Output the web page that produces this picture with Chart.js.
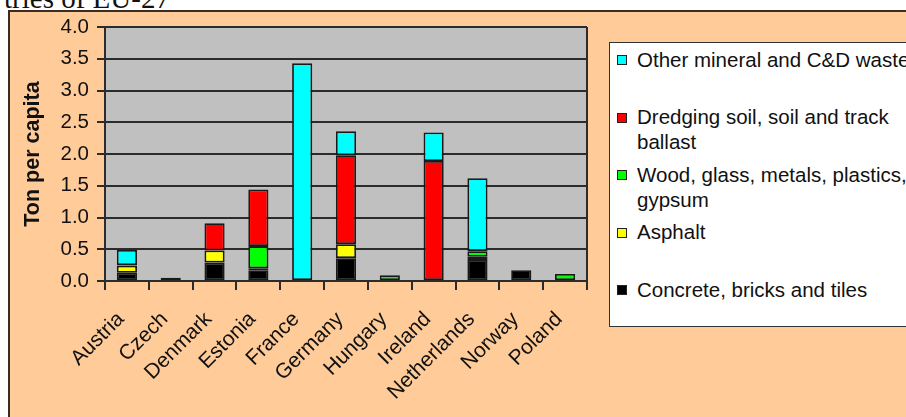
<!DOCTYPE html>
<html>
<head>
<meta charset="utf-8">
<script src="https://cdn.jsdelivr.net/npm/chart.js@4.4.1/dist/chart.umd.min.js"></script>
<style>
  html, body { margin: 0; padding: 0; background: #fff; overflow: hidden; }
  body { width: 906px; height: 417px; position: relative; font-family: "Liberation Sans", Arial, sans-serif; }
  #caption {
    position: absolute; left: 4px; top: -16px;
    font: 29px/1 "Liberation Serif", "DejaVu Serif", serif; color: #111; white-space: nowrap;
  }
  #frame {
    position: absolute; left: 8px; top: 10px; width: 1000px; height: 500px;
    background: #FFCC99; border-left: 2px solid #3b2b22; border-top: 2px solid #3b2b22;
  }
  #chartBox { position: absolute; left: 0; top: 0; width: 906px; height: 417px; }
  #legend {
    position: absolute; left: 609px; top: 42px; width: 400px; height: 285px;
    background: #fff; border: 1.5px solid #333; box-sizing: border-box;
  }
  .item { position: relative; height: 57.5px; padding-top: 3.5px; box-sizing: border-box; }
  .swatch {
    position: absolute; left: 7px; top: 12px; width: 8px; height: 8px; border: 1px solid #222;
  }
  .text { position: absolute; left: 27px; width: 280px; font-size: 20.5px; line-height: 25px; color: #111; }
</style>
</head>
<body>
<div id="caption">tries of EU-27</div>
<div id="frame"></div>
<canvas id="chartBox" width="906" height="417"></canvas>
<div id="legend"></div>
<script>
"use strict";

const countries = ["Austria", "Czech", "Denmark", "Estonia", "France", "Germany",
  "Hungary", "Ireland", "Netherlands", "Norway", "Poland"];

// stacked from bottom to top
const concrete = [0.13, 0.05, 0.29, 0.17, null, 0.36, null, null, 0.33, 0.17, null];
const asphalt = [0.11, null, 0.19, 0.03, null, 0.22, null, null, 0.05, null, null];
const woodGlass = [0.01, null, null, 0.35, null, null, 0.09, null, 0.09, null, 0.11];
const dredging = [null, null, 0.43, 0.89, null, 1.40, null, 1.89, null, null, null];
const otherMineral = [0.24, null, null, null, 3.43, 0.38, null, 0.45, 1.15, null, null];

const yTicks = [0, 0.5, 1, 1.5, 2, 2.5, 3, 3.5, 4];

const series = [
  { name: "Concrete, bricks and tiles", values: concrete, color: "#000000" },
  { name: "Asphalt", values: asphalt, color: "#FFFF00" },
  { name: "Wood, glass, metals, plastics, gypsum", values: woodGlass, color: "#00FF00" },
  { name: "Dredging soil, soil and track ballast", values: dredging, color: "#FF0000" },
  { name: "Other mineral and C&D waste", values: otherMineral, color: "#00FFFF" },
];

const textColor = "#111";
const lineColor = "#2b2b2b";

// gray plot area plus its frame
const plotArea = {
  id: "plotArea",
  beforeDraw(chart) {
    const { ctx, chartArea: a } = chart;
    ctx.save();
    ctx.fillStyle = "#C0C0C0";
    ctx.fillRect(a.left, a.top, a.right - a.left, a.bottom - a.top);
    ctx.restore();
  },
  beforeDatasetsDraw(chart) {
    const { ctx, chartArea: a } = chart;
    ctx.save();
    ctx.strokeStyle = lineColor;
    ctx.lineWidth = 2;
    ctx.beginPath();
    ctx.moveTo(a.right, a.top);
    ctx.lineTo(a.right, a.bottom);
    ctx.stroke();
    ctx.restore();
  },
};

Chart.defaults.font.family = "'Liberation Sans', Arial, sans-serif";
Chart.defaults.color = textColor;

const chart = new Chart(document.getElementById("chartBox"), {
  type: "bar",
  data: {
    labels: countries,
    datasets: series.map((s) => ({
      label: s.name,
      data: s.values,
      backgroundColor: s.color,
      borderColor: "#1a1a1a",
      borderWidth: 1.8,
      borderSkipped: false,
      barPercentage: 0.46,
      categoryPercentage: 1,
    })),
  },
  options: {
    responsive: false,
    animation: false,
    layout: { padding: { left: 0, top: 27, right: 319, bottom: 0 } },
    plugins: { legend: { display: false }, tooltip: { enabled: false } },
    scales: {
      x: {
        stacked: true,
        afterFit: (scale) => { scale.height = 136; },
        grid: {
          drawOnChartArea: false, offset: true, color: lineColor, lineWidth: 2, tickLength: 9,
        },
        border: { display: true, color: lineColor, width: 2 },
        ticks: {
          autoSkip: false, minRotation: 45, maxRotation: 45, padding: 17, labelOffset: -6,
          font: { size: 21 }, color: textColor,
        },
      },
      y: {
        stacked: true,
        min: 0,
        max: 4,
        afterFit: (scale) => { scale.width = 105; },
        afterBuildTicks: (scale) => { scale.ticks = yTicks.map((v) => ({ value: v })); },
        grid: { color: lineColor, lineWidth: 2, tickLength: 8 },
        border: { display: true, color: lineColor, width: 2 },
        ticks: {
          padding: 8, font: { size: 20.5 }, color: textColor,
          callback: (v) => Number(v).toFixed(1),
        },
        title: {
          display: true, text: "Ton per capita", color: textColor,
          font: { size: 21.5, weight: "bold" }, padding: { top: 20, bottom: 0 },
        },
      },
    },
  },
  plugins: [plotArea],
});

// legend box, top entry first like the original
const legend = document.getElementById("legend");
chart.data.datasets.slice().reverse().forEach((ds) => {
  const item = document.createElement("div");
  item.className = "item";
  const sw = document.createElement("span");
  sw.className = "swatch";
  sw.style.background = ds.backgroundColor;
  const txt = document.createElement("span");
  txt.className = "text";
  txt.textContent = ds.label;
  item.appendChild(sw);
  item.appendChild(txt);
  legend.appendChild(item);
});
</script>
</body>
</html>
